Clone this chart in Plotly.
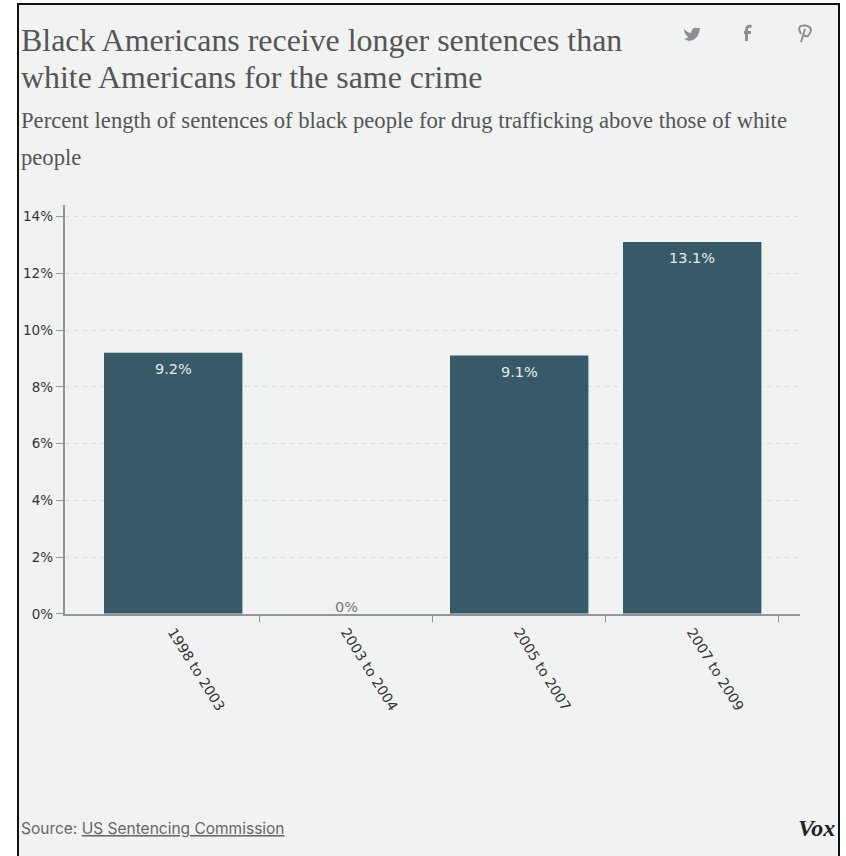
import plotly.graph_objects as go

categories = ["1998 to 2003", "2003 to 2004", "2005 to 2007", "2007 to 2009"]
values = [9.2, 0, 9.1, 13.1]
y_ticks = [0, 2, 4, 6, 8, 10, 12, 14]
boundary_ticks = [0.5, 1.5, 2.5, 3.5]

W, H = 846, 856
BG = "#f1f3f3"
BAR = "#375a69"
GREY = "#555555"
ICON = "#8a8f91"
AXIS = "#8f9598"
SERIF = "Liberation Serif"
SANS = "Inter"
WIDE = "DejaVu Sans"

def px(x):
    return x / W

def py(y):
    return 1 - y / H

def path(*parts):
    out = []
    for part in parts:
        cmd, *nums = part
        coords = []
        for i in range(0, len(nums), 2):
            coords += [f"{px(nums[i]):.5f}", f"{py(nums[i + 1]):.5f}"]
        out.append(" ".join([cmd] + coords))
    return " ".join(out)

# plot frame in page pixels
L, R, T, B = 64.5, 799.5, 204.5, 613.8
x0_val = 173.2
step = 173.0
xr = [(L - x0_val) / step, (R - x0_val) / step]
yr = [0, 14 * (B - T) / (B - 216.5)]

fig = go.Figure()
fig.add_trace(go.Bar(
    x=categories, y=values, width=0.8, marker=dict(color=BAR, line=dict(width=0)),
    hoverinfo="skip", showlegend=False,
))

# value labels, placed by the axes
for cat, v in zip(categories, values):
    inside = v > 0
    fig.add_annotation(xref="x", yref="y", x=cat, y=v, text=f"{v}%", showarrow=False,
                       yanchor="top" if inside else "bottom", yshift=-6 if inside else -3,
                       font=dict(size=14.5, family=WIDE, color="#e6eaea" if inside else "#777777"))

def note(x, y, text, size, family=SANS, color=GREY, anchor="left"):
    fig.add_annotation(xref="paper", yref="paper", x=px(x), y=py(y), text=text,
                       showarrow=False, xanchor=anchor, yanchor="middle",
                       font=dict(size=size, family=family, color=color))

note(19, 40, "Black Americans receive longer sentences than", 31.9, SERIF)
note(19, 78, "white Americans for the same crime", 31.9, SERIF)
note(19, 121, "Percent length of sentences of black people for drug trafficking above those of white", 22.65, SERIF)
note(19, 157.5, "people", 22.65, SERIF)
note(19, 828, 'Source: <u>US Sentencing Commission</u>', 15.5, SANS, "#666666")
note(837, 828, "<b><i>Vox</i></b>", 24, SERIF, "#222222", anchor="right")

def icon(d, fill=True, width=0):
    return dict(type="path", xref="paper", yref="paper", path=d,
                fillcolor=ICON if fill else "rgba(0,0,0,0)",
                line=dict(color=ICON, width=width))

shapes = [
    # page frame and background
    dict(type="rect", xref="paper", yref="paper", x0=px(18), x1=px(839), y0=py(4), y1=py(860),
         fillcolor=BG, line=dict(color="#111111", width=2), layer="below"),
    # twitter
    icon(path(("M", 684, 29), ("Q", 688, 33, 691, 33), ("Q", 692, 27, 697, 28), ("L", 700, 28),
              ("Q", 699, 40, 689, 41), ("L", 684, 39), ("Q", 688, 38, 688, 37),
              ("Q", 684, 34, 684, 29)) + " Z"),
    # facebook
    icon(path(("M", 751.5, 26.5), ("Q", 746.5, 25, 746.5, 30), ("L", 746.5, 41),
              ("M", 744, 32.5), ("L", 751, 32.5)), fill=False, width=3),
    # pinterest
    icon(path(("M", 801, 34), ("Q", 796, 25, 805, 25.5), ("Q", 815, 27, 808, 36),
              ("Q", 805, 37, 804, 35), ("M", 805, 29), ("L", 801, 42)), fill=False, width=2),
]

fig.update_layout(
    width=W, height=H, autosize=False,
    margin=dict(l=0, r=0, t=0, b=0, pad=0, autoexpand=False),
    paper_bgcolor="white", plot_bgcolor="rgba(0,0,0,0)", shapes=shapes,
    xaxis=dict(domain=[px(L), px(R)], range=xr, type="category", categoryorder="array",
               categoryarray=categories, tickangle=58, ticks="", showgrid=False, zeroline=False,
               showline=True, linecolor=AXIS, linewidth=1.5, ticklabelstandoff=3,
               tickfont=dict(size=14, family=WIDE, color="#333333")),
    xaxis2=dict(domain=[px(L), px(R)], range=xr, overlaying="x", anchor="y", side="bottom",
                tickvals=boundary_ticks, ticktext=["" for _ in boundary_ticks], ticks="outside",
                ticklen=7, tickcolor=AXIS, showgrid=False, zeroline=False, showline=False),
    yaxis=dict(domain=[py(B), py(T)], range=yr, tickvals=y_ticks,
               ticktext=[f"{v}%" for v in y_ticks], ticks="outside", ticklen=7, tickcolor=AXIS,
               showline=True, linecolor=AXIS, linewidth=1.5, zeroline=False,
               showgrid=True, griddash="4px,5px", gridcolor="#d9dcdd", gridwidth=1,
               tickfont=dict(size=13.5, family=WIDE, color="#333333")),
)
fig.add_trace(go.Scatter(x=boundary_ticks, y=[0, 0, 0, 0], xaxis="x2", yaxis="y", mode="markers",
                         marker=dict(opacity=0), hoverinfo="skip", showlegend=False))

fig.write_html("out.html", config={"displayModeBar": False},
               post_script="document.body.style.margin='0';document.body.style.overflow='hidden';"
                           "document.documentElement.style.overflow='hidden';")
